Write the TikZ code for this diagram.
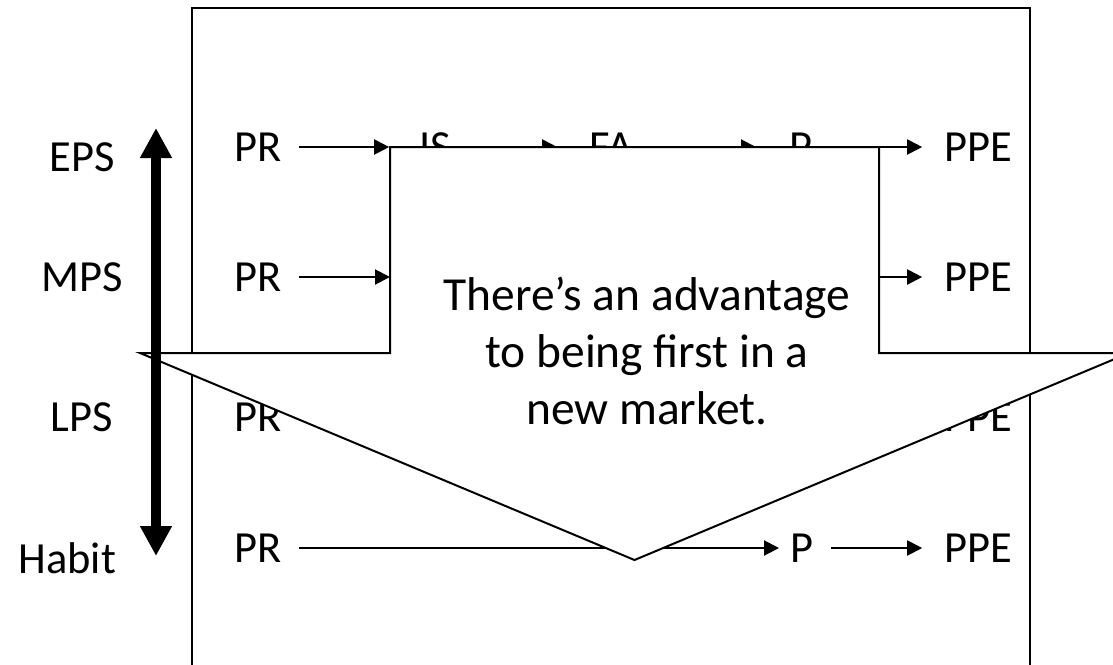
\documentclass[tikz,border=0pt]{standalone}
\usepackage{fontspec}
\setmainfont{Carlito}
\usetikzlibrary{arrows.meta}

\tikzset{
  lbl/.style = {draw = none, inner sep = 0pt, font = \fontsize{25.3}{32}\selectfont},
  flow/.style = {-{Triangle[length = 0.3cm, width = 0.3cm]}, shorten < = 0.33cm, shorten > = 0.42cm},
  bigflow/.style = {{Triangle[length = 0.6cm, width = 0.6cm]}-{Triangle[length = 0.6cm, width = 0.6cm]}, line width = 0.2cm},
}

\begin{document}
\begin{tikzpicture}[x = 0.02cm, y = -0.02cm, line width = 0.04cm]

\clip (0,0) rectangle (1113,664);
\draw (192,8) rectangle (1030,700);

% first row
\node[lbl] (pr1) at (258,147) {PR};
\node[lbl] (is1) at (435,147) {IS};
\node[lbl] (fa1) at (611,147) {FA};
\node[lbl] (p1) at (801,147) {P};
\node[lbl] (ppe1) at (978,147) {PPE};
\draw[flow, shorten > = 0.58cm] (pr1) -- (is1);
\draw[flow, shorten < = 0.24cm, shorten > = 0.62cm] (is1) -- (fa1);
\draw[flow, shorten < = 0.62cm, shorten > = 0.65cm] (fa1) -- (p1);
\draw[flow] (p1) -- (ppe1);

% second and third rows
\node[lbl] (pr2) at (258,277) {PR};
\node[lbl] (ppe2) at (978,277) {PPE};
\coordinate (in2) at (390,277);
\coordinate (out2) at (830,277);
\draw[flow, shorten > = 0pt] (pr2) -- (in2);
\draw[flow, shorten < = 0pt] (out2) -- (ppe2);

\node[lbl] (pr3) at (258,417) {PR};
\node[lbl] (ppe3) at (978,417) {PPE};
\coordinate (in3) at (390,417);
\coordinate (out3) at (830,417);
\draw[flow, shorten > = 0pt] (pr3) -- (in3);
\draw[flow, shorten < = 0pt] (out3) -- (ppe3);

% habit row
\node[lbl] (pr4) at (258,548) {PR};
\node[lbl] (p4) at (802,548) {P};
\node[lbl] (ppe4) at (978,548) {PPE};
\draw[flow, shorten > = 0.21cm] (pr4) -- (p4);
\draw[flow] (p4) -- (ppe4);

% callout
\draw[fill = white] (390,147) -- (879,147) -- (879,353) -- (1129,353) -- (634.5,560)
      -- (140,353) -- (390,353) -- cycle;
\node[lbl, align = center, font = \fontsize{27}{32.3}\selectfont] (msg) at (647,351)
      {There’s an advantage\\to being first in a\\new market.};

% scale on the left
\coordinate (hi) at (156,128);
\coordinate (lo) at (156,556);
\draw[bigflow] (hi) -- (lo);
\node[lbl] (eps) at (82,157) {EPS};
\node[lbl] (mps) at (82,277) {MPS};
\node[lbl] (lps) at (82,417) {LPS};
\node[lbl, anchor = east] (habit) at (117,558) {Habit};

\end{tikzpicture}
\end{document}
